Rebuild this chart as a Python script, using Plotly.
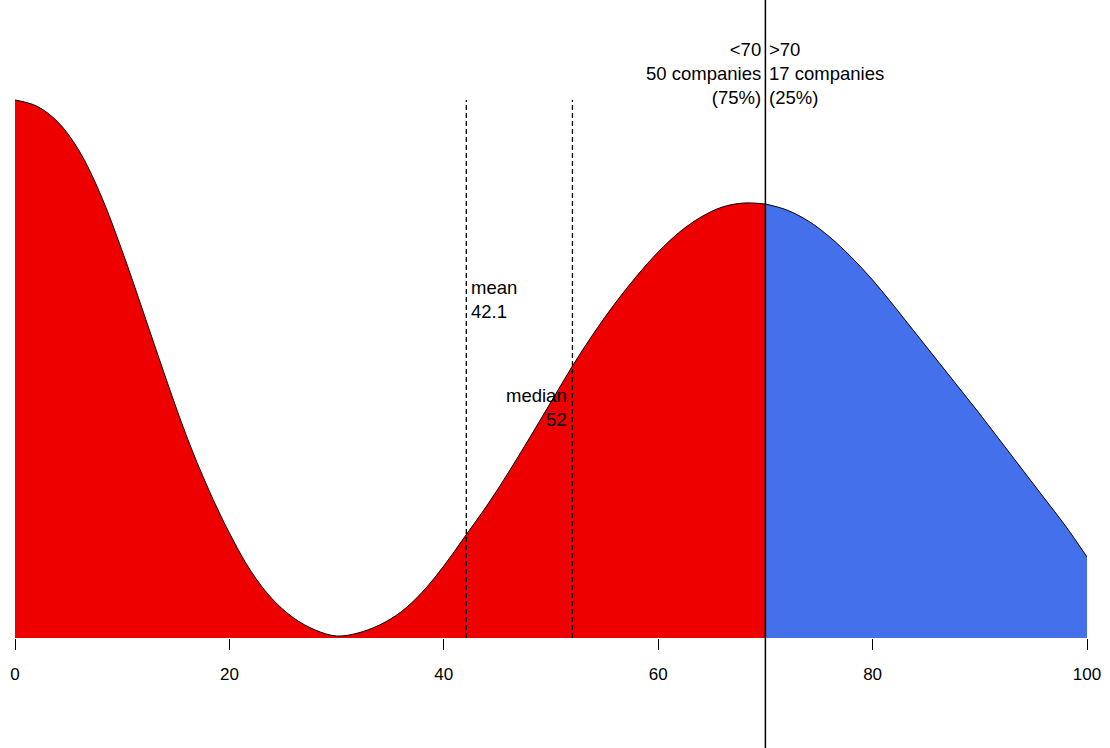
import plotly.graph_objects as go

# density curve (x = score, y = density)
score_low = [0, 2, 4, 6, 8, 10, 12, 14, 16, 18, 20, 22, 24, 26, 28, 30, 32, 34, 36,
             38, 40, 42, 44, 46, 48, 50, 52, 54, 56, 58, 60, 62, 64, 66, 68, 70]
dens_low = [0.0269, 0.0266, 0.0258, 0.02435, 0.02215, 0.01935, 0.01625, 0.0131,
            0.0101, 0.0075, 0.00525, 0.00335, 0.00195, 0.0010, 0.0004, 0.0001,
            0.00025, 0.00065, 0.0013, 0.0023, 0.0036, 0.0051, 0.0066, 0.00825,
            0.0100, 0.0118, 0.0136, 0.01525, 0.01675, 0.0181, 0.0193, 0.0203,
            0.02105, 0.02155, 0.02175, 0.0217]
score_high = [70, 72, 74, 76, 78, 80, 82, 84, 86, 88, 90, 92, 94, 96, 98, 100]
dens_high = [0.0217, 0.0214, 0.02085, 0.02005, 0.01905, 0.0179, 0.0166, 0.01525,
             0.0139, 0.01255, 0.0112, 0.0098, 0.0084, 0.0070, 0.0056, 0.00405]

cutoff = 70
mean_val = 42.1
median_val = 52
low_label = ["<70", "50 companies", "(75%)"]
high_label = [">70", "17 companies", "(25%)"]
tick_vals = [0, 20, 40, 60, 80, 100]

peak = max(dens_low)
font = "Liberation Sans, Arial, sans-serif"

fig = go.Figure()
fig.add_trace(go.Scatter(
    x=score_low, y=dens_low, mode="lines", line_shape="spline",
    line=dict(color="black", width=1), fill="tozeroy", fillcolor="#EE0000"
))
fig.add_trace(go.Scatter(
    x=score_high, y=dens_high, mode="lines", line_shape="spline",
    line=dict(color="black", width=1), fill="tozeroy", fillcolor="#4570EC"
))

# mean / median dashed lines
for v in [mean_val, median_val]:
    fig.add_shape(type="line", x0=v, x1=v, y0=0, y1=peak, xref="x", yref="y",
                  line=dict(color="black", width=1.3, dash="5px,3px"))

# cutoff line spans the whole page height
fig.add_shape(type="line", x0=cutoff, x1=cutoff, y0=-0.2, y1=1.05, xref="x", yref="paper",
              line=dict(color="black", width=1.5))

fig.add_annotation(x=mean_val, y=0.01815, xref="x", yref="y", text=f"mean<br>{mean_val}",
                   showarrow=False, xanchor="left", yanchor="top", align="left", xshift=3)
fig.add_annotation(x=median_val, y=0.01275, xref="x", yref="y", text=f"median<br>{median_val}",
                   showarrow=False, xanchor="right", yanchor="top", align="right", xshift=-3)
fig.add_annotation(x=cutoff, y=1, xref="x", yref="paper", text="<br>".join(low_label),
                   showarrow=False, xanchor="right", yanchor="top", align="right",
                   xshift=-2, yshift=-37)
fig.add_annotation(x=cutoff, y=1, xref="x", yref="paper", text="<br>".join(high_label),
                   showarrow=False, xanchor="left", yanchor="top", align="left",
                   xshift=2, yshift=-37)

# title cut off by the top edge, only descenders show
fig.add_annotation(x=0.052, y=1, xref="paper", yref="paper",
                   text="<i>Score distribution by range of survey</i>",
                   showarrow=False, xanchor="left", yanchor="bottom", yshift=-2.5,
                   font=dict(size=19, color="black"))

fig.update_layout(
    width=1110, height=748,
    margin=dict(l=15, r=23, t=0, b=110, autoexpand=False),
    paper_bgcolor="white", plot_bgcolor="white",
    showlegend=False,
    font=dict(family=font, size=18.5, color="black"),
    xaxis=dict(range=[0, 100], tickvals=tick_vals, ticks="outside", ticklen=11,
               tickcolor="black", tickwidth=1, showgrid=False, zeroline=False,
               showline=False, tickfont=dict(size=17), ticklabelstandoff=10,
               automargin=False),
    yaxis=dict(range=[0, peak * 638 / 538], visible=False, showgrid=False,
               automargin=False),
)

# drop the default page margin so the figure sits at the window's corner
fig.write_html("out.html", config={"displayModeBar": False},
               post_script="document.body.style.margin='0';")
